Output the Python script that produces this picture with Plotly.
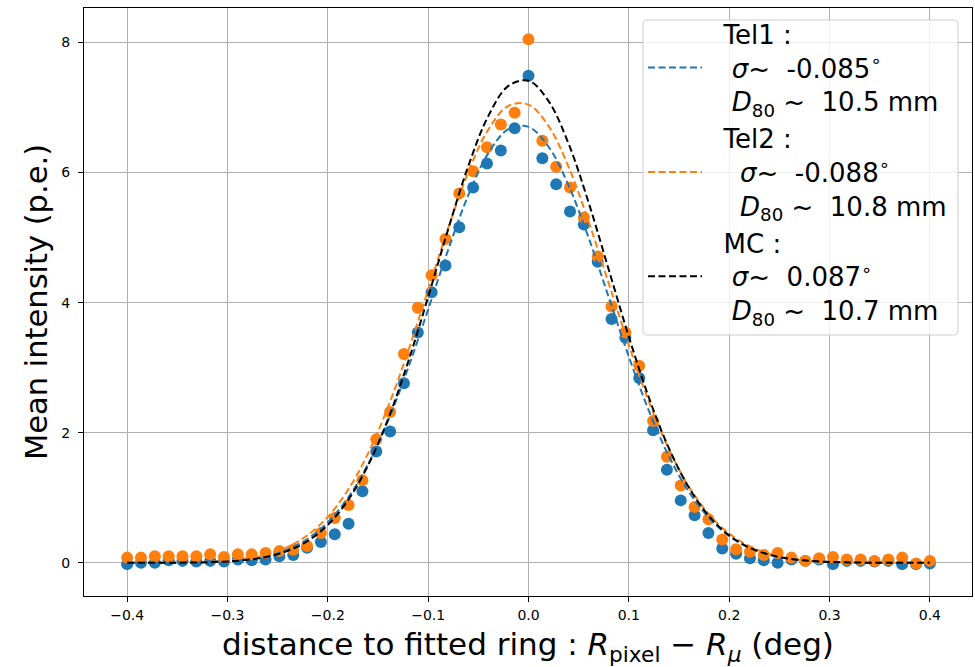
import plotly.graph_objects as go

# Bin centres of the measured profiles (deg)
x_bins = [-0.4, -0.38621, -0.37241, -0.35862, -0.34483, -0.33103, -0.31724, -0.30345,
          -0.28966, -0.27586, -0.26207, -0.24828, -0.23448, -0.22069, -0.2069, -0.1931,
          -0.17931, -0.16552, -0.15172, -0.13793, -0.12414, -0.11034, -0.09655, -0.08276,
          -0.06897, -0.05517, -0.04138, -0.02759, -0.01379, 0.0,
          0.01379, 0.02759, 0.04138, 0.05517, 0.06897, 0.08276, 0.09655, 0.11034,
          0.12414, 0.13793, 0.15172, 0.16552, 0.17931, 0.1931, 0.2069, 0.22069,
          0.23448, 0.24828, 0.26207, 0.27586, 0.28966, 0.30345, 0.31724, 0.33103,
          0.34483, 0.35862, 0.37241, 0.38621, 0.4]

tel1_points = [-0.02, 0.00, 0.00, 0.04, 0.03, 0.02, 0.03, 0.02, 0.05, 0.04,
               0.05, 0.10, 0.12, 0.23, 0.32, 0.44, 0.60, 1.10, 1.71, 2.02,
               2.76, 3.54, 4.16, 4.57, 5.16, 5.77, 6.14, 6.34, 6.68, 7.49,
               6.22, 5.82, 5.40, 5.20, 4.63, 3.75, 3.46, 2.84, 2.04, 1.43,
               0.96, 0.73, 0.46, 0.22, 0.14, 0.07, 0.04, 0.00, 0.05, 0.03,
               0.05, -0.02, 0.03, 0.03, 0.02, 0.03, -0.02, -0.02, -0.01]

tel2_points = [0.08, 0.08, 0.10, 0.10, 0.10, 0.10, 0.13, 0.09, 0.13, 0.13,
               0.15, 0.18, 0.20, 0.26, 0.46, 0.69, 0.89, 1.27, 1.90, 2.32,
               3.21, 3.92, 4.42, 4.98, 5.68, 6.02, 6.39, 6.74, 6.92, 8.05,
               6.49, 6.09, 5.77, 5.31, 4.71, 3.94, 3.54, 3.03, 2.18, 1.63,
               1.19, 0.86, 0.67, 0.36, 0.21, 0.17, 0.12, 0.15, 0.08, 0.03,
               0.07, 0.09, 0.05, 0.05, 0.03, 0.05, 0.08, -0.01, 0.03]

# Fitted curves on a 0.02 deg grid
x_fit = [-0.40, -0.38, -0.36, -0.34, -0.32, -0.30, -0.28, -0.26, -0.24, -0.22,
         -0.20, -0.18, -0.16, -0.14, -0.12, -0.10, -0.08, -0.06, -0.04, -0.02,
         0.00, 0.02, 0.04, 0.06, 0.08, 0.10, 0.12, 0.14, 0.16, 0.18,
         0.20, 0.22, 0.24, 0.26, 0.28, 0.30, 0.32, 0.34, 0.36, 0.38, 0.40]

tel1_fit = [0.000, 0.001, 0.002, 0.005, 0.013, 0.027, 0.057, 0.112, 0.208, 0.370,
            0.623, 0.997, 1.514, 2.185, 2.994, 3.897, 4.815, 5.652, 6.299, 6.667,
            6.702, 6.397, 5.800, 4.993, 4.082, 3.169, 2.337, 1.636, 1.088, 0.687,
            0.412, 0.235, 0.127, 0.065, 0.032, 0.015, 0.006, 0.002, 0.001, 0.000, 0.000]

tel2_fit = [0.000, 0.001, 0.003, 0.007, 0.016, 0.034, 0.069, 0.133, 0.244, 0.426,
            0.708, 1.118, 1.679, 2.396, 3.252, 4.198, 5.150, 6.008, 6.663, 7.026,
            7.044, 6.714, 6.085, 5.242, 4.294, 3.344, 2.477, 1.744, 1.167, 0.743,
            0.449, 0.258, 0.141, 0.074, 0.036, 0.017, 0.008, 0.003, 0.001, 0.000, 0.000]

mc_fit = [0.000, 0.000, 0.001, 0.004, 0.009, 0.022, 0.046, 0.095, 0.183, 0.336,
          0.583, 0.959, 1.495, 2.207, 3.087, 4.089, 5.131, 6.101, 6.871, 7.332,
          7.412, 7.098, 6.440, 5.535, 4.506, 3.476, 2.540, 1.759, 1.153, 0.716,
          0.422, 0.235, 0.124, 0.062, 0.030, 0.013, 0.006, 0.002, 0.001, 0.000, 0.000]

x_ticks = [-0.4, -0.3, -0.2, -0.1, 0.0, 0.1, 0.2, 0.3, 0.4]
y_ticks = [0, 2, 4, 6, 8]

NB = "\u00a0"
P = NB * 2  # gap between legend sample and text
tel1_label = (f"{P}Tel1 :<br>{P}{NB}<i>σ</i>~{NB}{NB}-0.085<sup>∘</sup>"
              f"<br>{P}{NB}<i>D</i><sub>80</sub>{NB}~{NB}{NB}10.5 mm")
tel2_label = (f"{P}Tel2 :<br>{P}{NB}{NB}<i>σ</i>~{NB}{NB}-0.088<sup>∘</sup>"
              f"<br>{P}{NB}{NB}<i>D</i><sub>80</sub>{NB}~{NB}{NB}10.8 mm")
mc_label = (f"{P}MC :<br>{P}{NB}<i>σ</i>~{NB}{NB}0.087<sup>∘</sup>"
            f"<br>{P}{NB}<i>D</i><sub>80</sub>{NB}~{NB}{NB}10.7 mm")

BLUE = "#1f77b4"
ORANGE = "#ff7f0e"
FONT = "DejaVu Sans"
DASH = "7px,3.5px"

fig = go.Figure()
fig.add_trace(go.Scatter(x=x_bins, y=tel1_points, mode="markers",
                         marker=dict(color=BLUE, size=12, line=dict(width=0)),
                         showlegend=False))
fig.add_trace(go.Scatter(x=x_bins, y=tel2_points, mode="markers",
                         marker=dict(color=ORANGE, size=12, line=dict(width=0)),
                         showlegend=False))
fig.add_trace(go.Scatter(x=x_fit, y=tel1_fit, mode="lines", name=tel1_label,
                         line=dict(color=BLUE, width=2, dash=DASH, shape="spline")))
fig.add_trace(go.Scatter(x=x_fit, y=tel2_fit, mode="lines", name=tel2_label,
                         line=dict(color=ORANGE, width=2, dash=DASH, shape="spline")))
fig.add_trace(go.Scatter(x=x_fit, y=mc_fit, mode="lines", name=mc_label,
                         line=dict(color="black", width=2, dash=DASH, shape="spline")))

axis_common = dict(
    showgrid=True, gridcolor="#b0b0b0", gridwidth=1,
    showline=True, linecolor="black", linewidth=1, mirror=True,
    ticks="outside", ticklen=5, tickwidth=1, tickcolor="black",
    zeroline=False, tickfont=dict(family=FONT, size=14, color="black"),
    automargin=False,
)

# Rounded legend frame (paper coordinates), drawn above the data, below the legend text
x0, x1, y0, y1 = 0.6295, 0.9842, 0.4439, 0.9796
rx, ry = 0.0050, 0.0075
frame_path = (f"M{x0+rx},{y1} L{x1-rx},{y1} Q{x1},{y1} {x1},{y1-ry} "
              f"L{x1},{y0+ry} Q{x1},{y0} {x1-rx},{y0} "
              f"L{x0+rx},{y0} Q{x0},{y0} {x0},{y0+ry} "
              f"L{x0},{y1-ry} Q{x0},{y1} {x0+rx},{y1} Z")

fig.update_layout(
    width=975, height=667,
    margin=dict(l=84, r=3, t=8, b=71),
    paper_bgcolor="white", plot_bgcolor="white",
    font=dict(family=FONT, color="black"),
    xaxis=dict(range=[-0.443, 0.442], tickvals=x_ticks, tickformat=".1f",
               ticklabelstandoff=1,
               title=dict(text="distance to fitted ring : <i>R</i><sub>pixel</sub>"
                               f"{NB}−{NB}<i>R</i><sub><i>μ</i></sub>{NB}(deg)",
                          font=dict(family=FONT, size=31), standoff=15),
               **axis_common),
    yaxis=dict(range=[-0.51, 8.53], tickvals=y_ticks, ticklabelstandoff=5,
               title=dict(text="Mean intensity (p.e.)", font=dict(family=FONT, size=30.5), standoff=4),
               **axis_common),
    shapes=[dict(type="path", xref="paper", yref="paper", path=frame_path, layer="above",
                 fillcolor="rgba(255,255,255,0.8)", line=dict(color="#cccccc", width=1))],
    legend=dict(x=0.6295, y=0.996, xanchor="left", yanchor="top",
                bgcolor="rgba(0,0,0,0)", borderwidth=0,
                font=dict(family=FONT, size=26, color="black"),
                itemwidth=54, valign="middle"),
)

# The page body has a default 8px margin; remove it so the figure sits at the window origin.
fig.write_html("out.html", config={"displayModeBar": False},
               post_script="document.body.style.margin='0px';")
